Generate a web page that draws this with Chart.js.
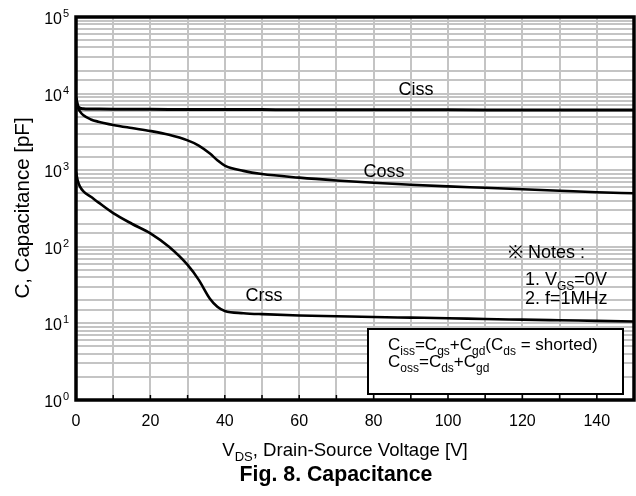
<!DOCTYPE html>
<html>
<head>
<meta charset="utf-8">
<script src="https://cdn.jsdelivr.net/npm/chart.js@4.4.1/dist/chart.umd.min.js"></script>
<style>
body { margin: 0; background: #fff; }
canvas { display: block; }
</style>
</head>
<body>
<canvas id="myChart" width="636" height="496"></canvas>
<script>
// drain-source voltage [V], shared by all three curves
const vds  = [0, 0.5, 1, 2, 4, 6, 10, 15, 20, 25, 30, 33, 36, 38, 40, 45, 50, 60, 70, 80, 90, 100, 110, 120, 130, 140, 150];
// capacitances [pF]
const ciss = [8800, 6900, 6500, 6350, 6300, 6280, 6250, 6240, 6230, 6220, 6210, 6210, 6200, 6200, 6200, 6190, 6180, 6170, 6160, 6150, 6150, 6140, 6130, 6120, 6110, 6100, 6100];
const coss = [8800, 6600, 5900, 5200, 4600, 4300, 3900, 3550, 3250, 2900, 2450, 2100, 1650, 1350, 1150, 980, 890, 800, 735, 685, 645, 615, 590, 565, 540, 515, 500];
const crss = [950, 720, 620, 530, 450, 380, 275, 200, 150, 100, 58, 37, 21, 16.5, 14.5, 13.6, 13.2, 12.7, 12.4, 12.1, 11.9, 11.7, 11.4, 11.2, 11.0, 10.8, 10.6];
// tick labels
const xLabels  = [0, 20, 40, 60, 80, 100, 120, 140];
const yDecades = [0, 1, 2, 3, 4, 5];

const FONT = '"Liberation Sans", Arial, sans-serif';

function toPoints(ys) {
	return vds.map((v, i) => ({x: v, y: ys[i]}));
}

// draws text made of normal / subscript / superscript pieces
function drawRich(ctx, x, y, parts, size, align) {
	let w = 0;
	const small = Math.round(size * 0.68);
	parts.forEach(p => {
		ctx.font = (p[1] ? small : size) + 'px ' + FONT;
		p.w = ctx.measureText(p[0]).width;
		w += p.w;
	});
	if (align === 'center') x -= w / 2;
	if (align === 'right') x -= w;
	ctx.textAlign = 'left';
	ctx.textBaseline = 'alphabetic';
	parts.forEach(p => {
		ctx.font = (p[1] ? small : size) + 'px ' + FONT;
		let dy = 0;
		if (p[1] === -1) dy = size * 0.28;
		if (p[1] === 1) dy = -size * 0.45;
		ctx.fillText(p[0], x, y + dy);
		x += p.w;
	});
}

const decorations = {
	id: 'decorations',
	afterDraw(chart) {
		const ctx = chart.ctx;
		const a = chart.chartArea;
		const xs = chart.scales.x, ys = chart.scales.y;
		ctx.save();
		ctx.fillStyle = '#000';
		ctx.strokeStyle = '#000';

		// small tick marks along the bottom axis
		ctx.lineWidth = 1.5;
		for (let v = 10; v < 150; v += 10) {
			const px = xs.getPixelForValue(v);
			ctx.beginPath();
			ctx.moveTo(px, a.bottom);
			ctx.lineTo(px, a.bottom - 5);
			ctx.stroke();
		}

		// frame
		ctx.lineWidth = 3.5;
		ctx.strokeRect(a.left, a.top, a.right - a.left, a.bottom - a.top);

		// y tick labels 10^n
		yDecades.forEach(n => {
			const py = ys.getPixelForValue(Math.pow(10, n));
			ctx.font = '16px ' + FONT;
			ctx.textAlign = 'right';
			ctx.textBaseline = 'alphabetic';
			ctx.fillText('10', 62, py + 7);
			ctx.font = '11px ' + FONT;
			ctx.textAlign = 'left';
			ctx.fillText(String(n), 63, py);
		});

		// axis titles
		drawRich(ctx, 345, 456, [['V', 0], ['DS', -1], [', Drain-Source Voltage [V]', 0]], 18.6, 'center');
		ctx.save();
		ctx.translate(29, 208);
		ctx.rotate(-Math.PI / 2);
		ctx.font = '20.5px ' + FONT;
		ctx.textAlign = 'center';
		ctx.textBaseline = 'alphabetic';
		ctx.fillText('C, Capacitance [pF]', 0, 0);
		ctx.restore();

		// caption
		ctx.font = 'bold 21.3px ' + FONT;
		ctx.textAlign = 'center';
		ctx.textBaseline = 'alphabetic';
		ctx.fillText('Fig. 8. Capacitance', 336, 481);

		// curve names
		ctx.font = '18px ' + FONT;
		ctx.fillText('Ciss', 416, 95);
		ctx.fillText('Coss', 384, 177);
		ctx.fillText('Crss', 264, 301);

		// notes
		ctx.textAlign = 'left';
		ctx.fillText('\u203B Notes :', 508, 258);
		drawRich(ctx, 525, 285, [['1. V', 0], ['GS', -1], ['=0V', 0]], 18, 'left');
		drawRich(ctx, 525, 304, [['2. f=1MHz', 0]], 18, 'left');

		// definitions box
		ctx.fillStyle = '#fff';
		ctx.fillRect(368, 329, 255, 65);
		ctx.lineWidth = 2;
		ctx.strokeRect(368, 329, 255, 65);
		ctx.fillStyle = '#000';
		drawRich(ctx, 388, 350, [['C', 0], ['iss', -1], ['=C', 0], ['gs', -1], ['+C', 0], ['gd', -1], ['(C', 0], ['ds', -1], [' = shorted)', 0]], 17, 'left');
		drawRich(ctx, 388, 367, [['C', 0], ['oss', -1], ['=C', 0], ['ds', -1], ['+C', 0], ['gd', -1]], 17, 'left');

		ctx.restore();
	}
};

const lineStyle = {
	borderColor: '#000',
	pointRadius: 0,
	fill: false,
	cubicInterpolationMode: 'monotone'
};

const myChart = new Chart(document.getElementById('myChart'), {
	type: 'line',
	data: {
		datasets: [
			Object.assign({label: 'Ciss', data: toPoints(ciss), borderWidth: 3}, lineStyle),
			Object.assign({label: 'Coss', data: toPoints(coss), borderWidth: 2.6}, lineStyle),
			Object.assign({label: 'Crss', data: toPoints(crss), borderWidth: 2.6}, lineStyle)
		]
	},
	options: {
		responsive: false,
		maintainAspectRatio: false,
		devicePixelRatio: 1,
		animation: false,
		layout: {padding: {left: 0, right: 2, top: 17, bottom: 0}},
		plugins: {legend: {display: false}, tooltip: {enabled: false}},
		scales: {
			x: {
				type: 'linear',
				min: 0,
				max: 150,
				border: {display: false},
				grid: {color: '#c4c4c4', lineWidth: 2, drawTicks: false},
				ticks: {
					stepSize: 10,
					autoSkip: false,
					maxRotation: 0,
					padding: 12,
					color: '#000',
					font: {family: FONT, size: 16},
					callback: v => xLabels.includes(v) ? String(v) : ''
				},
				afterFit: s => { s.height = 96; s.paddingLeft = 0; s.paddingRight = 0; }
			},
			y: {
				type: 'logarithmic',
				min: 1,
				max: 100000,
				border: {display: false},
				grid: {color: '#c4c4c4', lineWidth: 2, drawTicks: false},
				ticks: {display: false, autoSkip: false},
				afterFit: s => { s.width = 76; }
			}
		}
	},
	plugins: [decorations]
});
</script>
</body>
</html>
